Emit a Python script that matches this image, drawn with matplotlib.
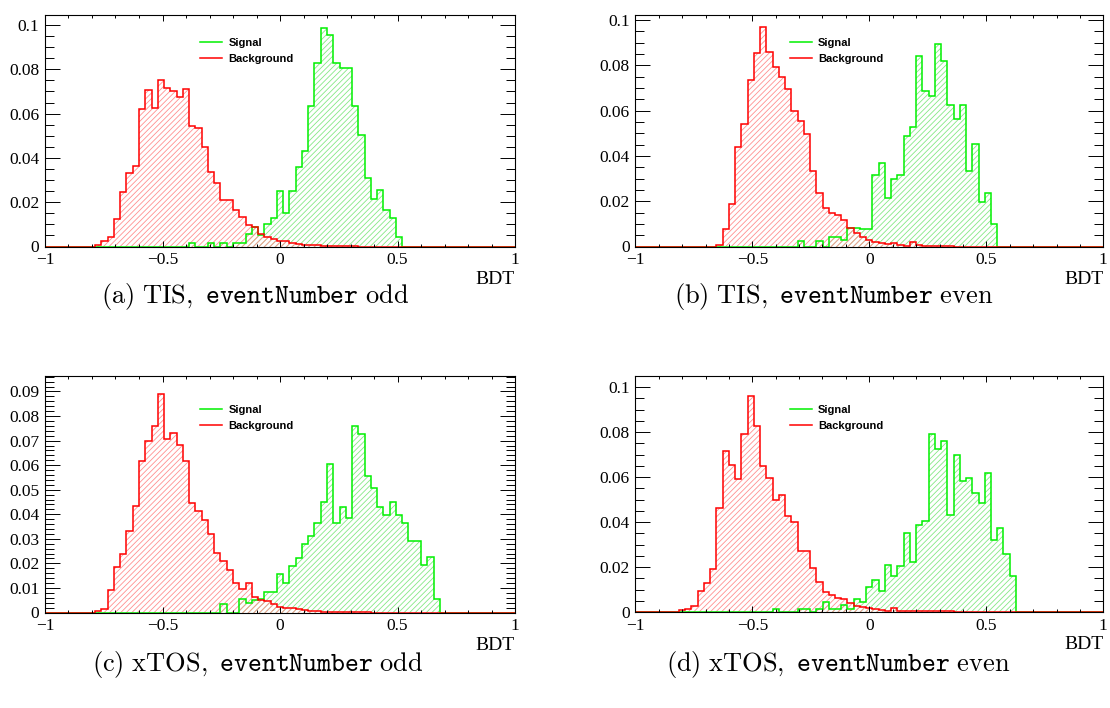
import numpy as np
import matplotlib.pyplot as plt
from matplotlib.lines import Line2D
from matplotlib.ticker import MultipleLocator, FuncFormatter

plt.rcParams['mathtext.fontset'] = 'cm'
plt.rcParams['hatch.linewidth'] = 0.6

n_bins = 75
edges = np.linspace(-1, 1, n_bins + 1)


def binned(start, vals):
    h = np.zeros(n_bins)
    h[start:start + len(vals)] = vals
    return h


# (a) TIS, odd
sig_a = binned(23, [0.0018, 0, 0, 0.0015, 0, 0.0015, 0, 0.0015, 0.0015, 0.0057,
                    0.0087, 0.0050, 0.0100, 0.0128, 0.0252, 0.0150, 0.0252, 0.0360,
                    0.0432, 0.0632, 0.0830, 0.0988, 0.0955, 0.0830, 0.0808, 0.0808,
                    0.0632, 0.0504, 0.0311, 0.0214, 0.0256, 0.0165, 0.0128, 0.0041])
bkg_a = binned(8, [0.0005, 0.0027, 0.0045, 0.0125, 0.0248, 0.0332, 0.0362, 0.0621,
                   0.0707, 0.0624, 0.0752, 0.0716, 0.0704, 0.0677, 0.0711, 0.0546,
                   0.0534, 0.0451, 0.0338, 0.0287, 0.0208, 0.0208, 0.0167, 0.0132,
                   0.0098, 0.0087, 0.0057, 0.0042, 0.0035, 0.0027, 0.0023, 0.0015,
                   0.0012, 0.0008, 0.0006, 0.0005, 0.0004, 0.0004, 0.0003, 0.0002,
                   0.0002, 0.0001])

# (b) TIS, even
sig_b = binned(26, [0.0024, 0, 0, 0.0024, 0, 0.0040, 0.0040, 0.0028, 0.0080, 0.0080,
                    0.0078, 0.0078, 0.0315, 0.0370, 0.0214, 0.0296, 0.0315, 0.0488,
                    0.0528, 0.0841, 0.0688, 0.0666, 0.0896, 0.0819, 0.0624, 0.0565,
                    0.0624, 0.0333, 0.0451, 0.0196, 0.0236, 0.0100])
bkg_b = binned(13, [0.0005, 0.0076, 0.0187, 0.0440, 0.0540, 0.0735, 0.0855, 0.0969,
                    0.0858, 0.0791, 0.0747, 0.0695, 0.0599, 0.0554, 0.0495, 0.0332,
                    0.0236, 0.0169, 0.0150, 0.0139, 0.0117, 0.0083, 0.0058, 0.0043,
                    0.0030, 0.0021, 0.0014, 0.0011, 0.0017, 0.0007, 0.0004, 0.0019,
                    0.0007, 0.0003, 0.0003, 0.0003, 0.0003, 0.0003])

# (c) xTOS, odd
sig_c = binned(28, [0.0035, 0, 0, 0.0053, 0.0040, 0.0050, 0.0055, 0.0083, 0.0083,
                    0.0158, 0.0121, 0.0189, 0.0223, 0.0278, 0.0312, 0.0366, 0.0448,
                    0.0604, 0.0363, 0.0431, 0.0386, 0.0761, 0.0727, 0.0556, 0.0505,
                    0.0431, 0.0396, 0.0448, 0.0396, 0.0363, 0.0291, 0.0291, 0.0193,
                    0.0227, 0.0053])
bkg_c = binned(8, [0.0008, 0.0014, 0.0093, 0.0185, 0.0238, 0.0331, 0.0435, 0.0616,
                   0.0698, 0.0759, 0.0890, 0.0707, 0.0732, 0.0684, 0.0616, 0.0446,
                   0.0415, 0.0378, 0.0320, 0.0242, 0.0211, 0.0174, 0.0120, 0.0095,
                   0.0120, 0.0065, 0.0049, 0.0045, 0.0035, 0.0024, 0.0018, 0.0020,
                   0.0014, 0.0011, 0.0008, 0.0006, 0.0004, 0.0004, 0.0003, 0.0002,
                   0.0003, 0.0002, 0.0001, 0.0001])

# (d) xTOS, even
sig_d = binned(22, [0.0012, 0, 0, 0, 0.0012, 0.0012, 0, 0.0012, 0.0045, 0.0012,
                    0.0012, 0.0030, 0.0015, 0.0060, 0.0045, 0.0110, 0.0142, 0.0093,
                    0.0207, 0.0160, 0.0206, 0.0353, 0.0223, 0.0386, 0.0404, 0.0793,
                    0.0726, 0.0761, 0.0433, 0.0697, 0.0583, 0.0594, 0.0531, 0.0486,
                    0.0616, 0.0319, 0.0372, 0.0256, 0.0160])
bkg_d = binned(7, [0.0009, 0.0012, 0.0026, 0.0093, 0.0131, 0.0190, 0.0461, 0.0715,
                   0.0652, 0.0589, 0.0793, 0.0959, 0.0826, 0.0648, 0.0596, 0.0497,
                   0.0519, 0.0426, 0.0401, 0.0271, 0.0271, 0.0194, 0.0134, 0.0087,
                   0.0076, 0.0061, 0.0057, 0.0041, 0.0028, 0.0023, 0.0016, 0.0012,
                   0.0009, 0.0006, 0.0016, 0.0005, 0.0004, 0.0003, 0.0003, 0.0003,
                   0.0003, 0.0003, 0.0003, 0.0003])

captions = [r'$\mathrm{(a)\ TIS,\ }\mathtt{eventNumber}\mathrm{\ odd}$',
            r'$\mathrm{(b)\ TIS,\ }\mathtt{eventNumber}\mathrm{\ even}$',
            r'$\mathrm{(c)\ xTOS,\ }\mathtt{eventNumber}\mathrm{\ odd}$',
            r'$\mathrm{(d)\ xTOS,\ }\mathtt{eventNumber}\mathrm{\ even}$']
y_top = [0.1045, 0.1022, 0.0963, 0.1049]
y_major = [0.02, 0.02, 0.01, 0.02]
y_minor = [0.005, 0.005, 0.002, 0.005]

W, H = 1110, 708
fig = plt.figure(figsize=(W / 100, H / 100), dpi=100)

# pixel boxes: left, right, top, bottom
boxes = [(45, 515, 15, 246.5), (635.3, 1103.3, 15, 246.5),
         (45, 515, 376, 612.5), (635.3, 1103.3, 376, 612)]
legend_top = [38, 38, 405, 405]
cap_pos = [(255, 297), (834, 297), (258, 665), (838, 665)]

sigs = [sig_a, sig_b, sig_c, sig_d]
bkgs = [bkg_a, bkg_b, bkg_c, bkg_d]

green, green_h = '#00f000', '#85e885'
red, red_h = '#ff0000', '#ff9090'
tick_font = 'Liberation Serif'


def fmt(v, pos):
    return ('%g' % v).replace('-', '\u2212')


for i in range(4):
    l, r, t, b = boxes[i]
    ax = fig.add_axes([l / W, 1 - b / H, (r - l) / W, (b - t) / H])
    sig, bkg = sigs[i], bkgs[i]

    ax.stairs(sig, edges, fill=True, facecolor='none', edgecolor=green_h,
              hatch='//////', linewidth=0)
    ax.stairs(bkg, edges, fill=True, facecolor='none', edgecolor=red_h,
              hatch='//////', linewidth=0)
    ax.stairs(sig, edges, color=green, linewidth=1.1)
    ax.stairs(bkg, edges, color=red, linewidth=1.1)

    ax.set_xlim(-1, 1)
    ax.set_ylim(0, y_top[i])

    ax.xaxis.set_major_locator(MultipleLocator(0.5))
    ax.xaxis.set_minor_locator(MultipleLocator(0.1))
    ax.yaxis.set_major_locator(MultipleLocator(y_major[i]))
    ax.yaxis.set_minor_locator(MultipleLocator(y_minor[i]))
    ax.xaxis.set_major_formatter(FuncFormatter(fmt))
    ax.yaxis.set_major_formatter(FuncFormatter(fmt))

    ax.tick_params(which='both', direction='in', top=True, right=True, width=0.7,
                   labelsize=12.5)
    ax.tick_params(axis='x', which='major', length=4.5, pad=4)
    ax.tick_params(axis='x', which='minor', length=2.3)
    ax.tick_params(axis='y', which='major', length=10.8, pad=4)
    ax.tick_params(axis='y', which='minor', length=6.5)
    for lab in ax.get_xticklabels() + ax.get_yticklabels():
        lab.set_fontfamily(tick_font)
    for s in ax.spines.values():
        s.set_linewidth(0.8)

    ax.set_xlabel('BDT', loc='right', fontsize=14, fontfamily=tick_font,
                  labelpad=2)

    handles = [Line2D([], [], color=green, linewidth=1.1),
               Line2D([], [], color=red, linewidth=1.1)]
    ax.legend(handles, ['Signal', 'Background'], loc='upper left',
              bbox_to_anchor=(0.33, 1 - (legend_top[i] - t) / (b - t)),
              frameon=False, borderpad=0, borderaxespad=0, handlelength=2.0,
              handletextpad=0.55, labelspacing=0.55,
              prop={'family': 'Liberation Sans', 'weight': 'bold', 'size': 8})

    cx, cy = cap_pos[i]
    fig.text(cx / W, 1 - cy / H, captions[i], fontsize=19, ha='center',
             va='center')

fig.savefig('out.png', dpi=100)
